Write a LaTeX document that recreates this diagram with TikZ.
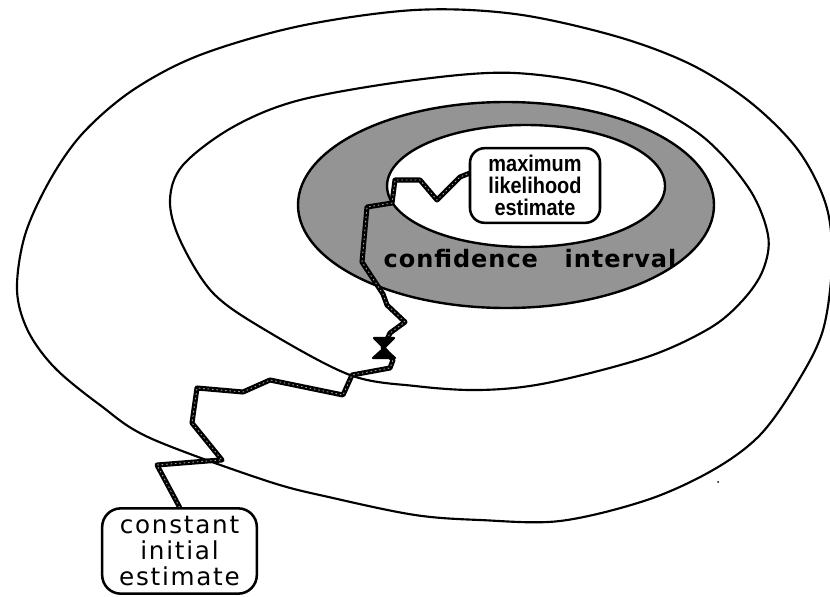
\documentclass[tikz,border=0pt]{standalone}
\usepackage{fontspec}
\usepackage{graphicx}
\setmainfont{Liberation Sans}
\newfontfamily\vera[LetterSpace=7]{DejaVu Sans}
\newfontfamily\verab[LetterSpace=4]{DejaVu Sans}
\usetikzlibrary{calc}
\pgfdeclarelayer{front}
\pgfsetlayers{main,front}
\newcommand\narrow[1]{\scalebox{0.88}[1]{#1}}
\begin{document}
\begin{tikzpicture}[x=0.75pt,y=-0.75pt,
  contour/.style={line width=1.6pt, line join=round},
  band/.style={fill=black!42, draw=black, line width=1.8pt},
  hole/.style={fill=white, draw=black, line width=1.8pt},
  labelbox/.style={draw=black, fill=white, line width=1.9pt, inner sep=0pt, align=center},
  track/.style={line width=3.8pt, line join=round, line cap=round,
    postaction={draw=black!35, line width=0.7pt, dash pattern=on 0.7pt off 2.6pt}},
  xmarker/.style={fill=black, draw=black, line width=1.6pt, line join=round}]
\useasboundingbox (0,0) rectangle (830,596);
% outer contour
\draw[contour] plot[smooth cycle, tension=0.55] coordinates {
 (415,10) (515,14) (615,36) (690,64) (750,102) (798,150) (826,205) (832,262)
 (823,330) (797,383) (760,435) (713,470) (647,500) (560,521) (480,520) (415,515)
 (333,498) (267,481) (150,438) (100,405) (55,368) (28,331) (17,290)
 (25,235) (50,180) (83,133) (133,90) (200,55) (300,26)};
% middle contour
\draw[contour] plot[smooth cycle, tension=0.55] coordinates {
 (415,80) (515,73) (615,90) (698,133) (748,187) (768,235) (763,270) (743,300)
 (710,328) (647,357) (547,383) (480,390) (415,386) (350,375) (267,331) (213,293)
 (180,240) (170,200) (183,165) (233,127) (300,100)};
% confidence band
\draw[band] (506,205) ellipse [x radius=208, y radius=103];
\draw[hole] (526,186) ellipse [x radius=139, y radius=61];
\node[anchor=base, inner sep=0pt, font={\verab\bfseries\fontsize{18}{18}\selectfont}] (cint) at (530,267)
  {confidence\hspace{20pt}interval};
% small speck
\fill (718,482) circle [radius=1];
% boxes (front layer)
\begin{pgfonlayer}{front}
\node[labelbox, rounded corners=11pt, minimum width=97.5pt, minimum height=56pt,
  font={\bfseries\fontsize{17}{16.5}\selectfont}] (mle) at (535,185.5)
  {\narrow{maximum}\\\narrow{likelihood}\\\narrow{estimate}};
\node[labelbox, rounded corners=14pt, minimum width=116pt, minimum height=64pt,
  font={\vera\fontsize{18.5}{19.5}\selectfont}] (init) at (179.5,551)
  {constant\\initial\\estimate};
\end{pgfonlayer}
% search path
\draw[track] (init.north) -- (157,465) -- (207,461) -- (222,460) -- (192,423) -- (197,388)
  -- (243,392) -- (270,380) -- (343,395) -- (352,375) -- (390,368) -- (393,360)
  -- (383,348) -- (390,333) -- (405,322) -- (387,305) -- (383,294) -- (362,262)
  -- (367,207) -- (392,203) -- (395,180) -- (420,180) -- (437,200) -- (450,187)
  -- (460,177) -- ($(mle.west)+(0,-12)$);
% marker
\draw[xmarker] (374,338) -- (394,338) -- (384,348) -- (395,358) -- (373,358) -- (384,348) -- cycle;
\end{tikzpicture}
\end{document}
